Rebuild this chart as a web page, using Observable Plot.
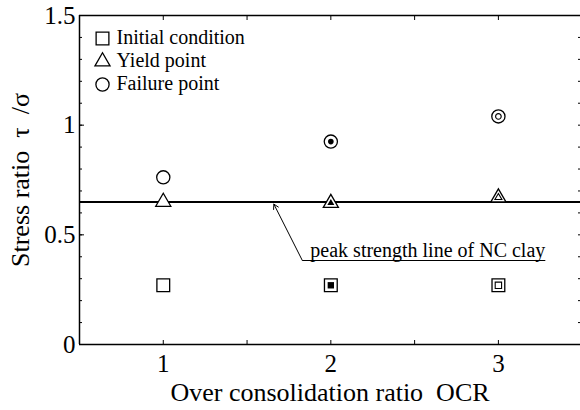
<!DOCTYPE html>
<html>
<head>
<meta charset="utf-8">
<script src="https://cdn.jsdelivr.net/npm/d3@7"></script>
<script src="https://cdn.jsdelivr.net/npm/@observablehq/plot@0.6"></script>
<style>
  html, body { margin: 0; padding: 0; background: #fff; }
  svg { font-family: "Liberation Serif", "Times New Roman", serif; }
</style>
</head>
<body>
<div id="chart"></div>
<script>
// ---- data ----
const ocr = [1, 2, 3];
const initialCondition = [0.27, 0.27, 0.27];
const yieldPoint = [0.65, 0.645, 0.67];
const failurePoint = [0.762, 0.925, 1.04];
const innerStyle = ["none", "filled", "open"];   // marker decoration per OCR
const ncPeakStrength = 0.65;
const legendLabels = ["Initial condition", "Yield point", "Failure point"];
const legendSymbols = ["square", "triangle", "circle"];
const annotationText = "peak strength line of NC clay";
const annotationTip = [1.66, 0.64];
const annotationElbow = [1.83, 0.383];
const annotationEnd = [3.28, 0.383];
const xTicks = [1, 2, 3];
const xMinorTicks = [1, 1.5, 2, 2.5, 3];
const yTicks = [0, 0.5, 1, 1.5];
const yMinorTicks = d3.range(0, 1.5001, 0.1).map(v => +v.toFixed(2));
const xLabel = "Over consolidation ratio  OCR";
const yLabel = "Stress ratio  τ  /σ";

// ---- build table ----
const series = [
  {name: "initial", values: initialCondition, symbol: "square", r: 7.2, ri: 3.6},
  {name: "yield", values: yieldPoint, symbol: "triangle", r: 5.6, ri: 2.6},
  {name: "failure", values: failurePoint, symbol: "circle", r: 6.6, ri: 2.8}
];
const pts = [];
for (const s of series) {
  ocr.forEach((o, i) => pts.push({ocr: o, v: s.values[i], symbol: s.symbol, r: s.r, ri: s.ri, inner: innerStyle[i]}));
}

const font = "Liberation Serif";

const legendMarks = legendLabels.flatMap((label, i) => [
  Plot.dot([legendSymbols[i]], {frameAnchor: "top-left", symbol: d => d, r: series[i].r, dx: 23, dy: 23 + 23 * i, stroke: "#000", fill: "#fff", strokeWidth: 1.3}),
  Plot.text([label], {frameAnchor: "top-left", text: d => d, textAnchor: "start", lineAnchor: "middle", dx: 37, dy: 22 + 23 * i, fontSize: 20})
]);

const chart = Plot.plot({
  width: 580,
  height: 410,
  marginLeft: 79,
  marginRight: 0,
  marginTop: 15,
  marginBottom: 66,
  style: {fontFamily: font, background: "#fff", color: "#000"},
  x: {domain: [0.5, 3.49]},
  y: {domain: [0, 1.5]},
  symbol: {type: "identity"},
  r: {type: "identity"},
  marks: [
    // frame (left, top, bottom; right edge lies off the picture)
    Plot.ruleX([0.5], {stroke: "#000", strokeWidth: 1.5}),
    Plot.ruleY([0, 1.5], {stroke: "#000", strokeWidth: 1.5}),
    // y axis: major labels + inward ticks
    Plot.axisY({ticks: yTicks, tickSize: 0, tickPadding: 4, tickFormat: d => String(d), fontSize: 25, label: null}),
    Plot.axisY({ticks: yTicks, tickSize: -5, tickFormat: () => "", label: null, strokeWidth: 1}),
    Plot.axisY({ticks: yMinorTicks, tickSize: -3, tickFormat: () => "", label: null, strokeWidth: 1}),
    Plot.axisY({anchor: "right", ticks: yMinorTicks, tickSize: -3, tickFormat: () => "", label: null, strokeWidth: 1}),
    // x axis
    Plot.axisX({ticks: xTicks, tickSize: 0, tickPadding: 10, tickFormat: d => String(d), fontSize: 25, label: null}),
    Plot.axisX({ticks: xMinorTicks, tickSize: -4, tickFormat: () => "", label: null, strokeWidth: 1}),
    Plot.axisX({anchor: "top", ticks: xMinorTicks, tickSize: -4, tickFormat: () => "", label: null, strokeWidth: 1}),
    // axis titles
    Plot.text([xLabel], {frameAnchor: "bottom", lineAnchor: "middle", dy: 48, fontSize: 26, text: d => d}),
    Plot.text([yLabel], {frameAnchor: "left", textAnchor: "middle", lineAnchor: "middle", dx: -59, rotate: -90, fontSize: 26, text: d => d}),
    // NC peak strength line
    Plot.ruleY([ncPeakStrength], {stroke: "#000", strokeWidth: 2}),
    // annotation
    Plot.arrow([0], {x1: () => annotationElbow[0], y1: () => annotationElbow[1], x2: () => annotationTip[0], y2: () => annotationTip[1], stroke: "#000", strokeWidth: 1, headLength: 8, bend: 0}),
    Plot.link([0], {x1: () => annotationElbow[0], y1: () => annotationElbow[1], x2: () => annotationEnd[0], y2: () => annotationEnd[1], stroke: "#000", strokeWidth: 1.2}),
    Plot.text([annotationText], {x: () => annotationElbow[0], y: () => annotationElbow[1], text: d => d, textAnchor: "start", lineAnchor: "bottom", dx: 8, dy: -3, fontSize: 20}),
    // markers (outer)
    Plot.dot(pts, {x: "ocr", y: "v", symbol: "symbol", r: "r", stroke: "#000", fill: "#fff", strokeWidth: 1.3}),
    // inner decorations
    Plot.dot(pts.filter(d => d.inner === "filled"), {x: "ocr", y: "v", symbol: "symbol", r: "ri", fill: "#000", stroke: "none"}),
    Plot.dot(pts.filter(d => d.inner === "open"), {x: "ocr", y: "v", symbol: "symbol", r: "ri", fill: "none", stroke: "#000", strokeWidth: 1.1}),
    // legend
    ...legendMarks
  ]
});
document.getElementById("chart").appendChild(chart);
</script>
</body>
</html>
